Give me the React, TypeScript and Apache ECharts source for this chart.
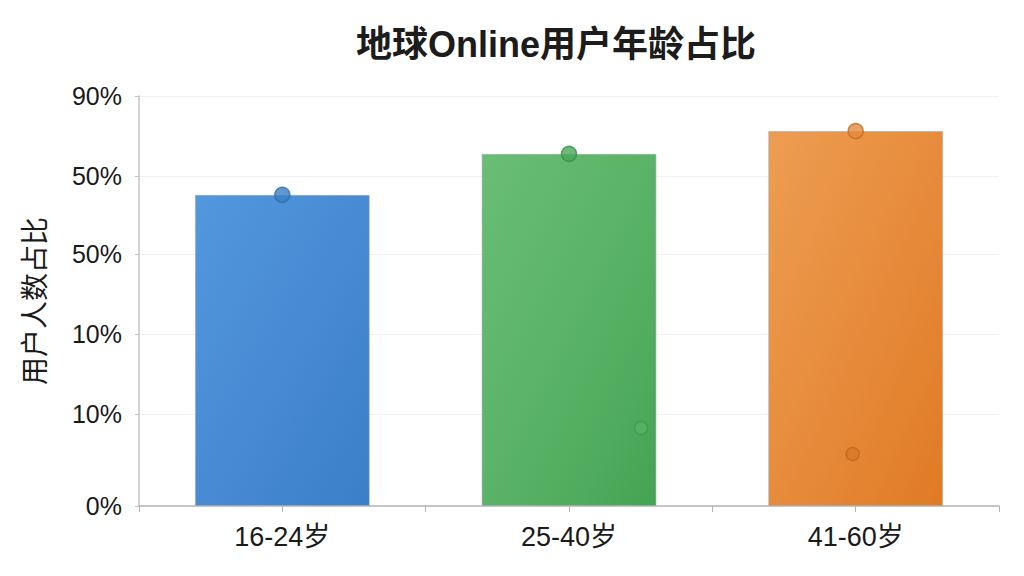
import React, { useEffect, useRef } from 'react';
import * as echarts from 'echarts';
import type { EChartsOption } from 'echarts';

const categories = ['16-24岁', '25-40岁', '41-60岁'];
const barValues = [68.3, 77.3, 82.3];
const topDotValues = [68.3, 77.3, 82.3];
const innerDotValues: (number | null)[] = [null, 17.1, 11.4];
const yTickValues = [0, 20.2, 37.8, 55.3, 72.4, 90];
const yTickLabels = ['0%', '10%', '10%', '50%', '50%', '90%'];

const FONT = '"Liberation Sans", Arial, "Noto Sans CJK SC", sans-serif';

// light, dark, dot fill, dot border per bar
const palette = [
  { light: '#5298dd', mid: '#4789d3', dark: '#3a7fc8', dot: '#3a7fc2', edge: '#2f6cab' },
  { light: '#6abd76', mid: '#58b265', dark: '#45a354', dot: '#4aa657', edge: '#3a8e47' },
  { light: '#ed9d52', mid: '#e68a3a', dark: '#e07a24', dot: '#e38a3d', edge: '#c46b22' },
];

const barGradient = (i: number) => ({
  type: 'linear' as const,
  x: 0, y: 0, x2: 1, y2: 1,
  colorStops: [
    { offset: 0, color: palette[i].light },
    { offset: 0.55, color: palette[i].mid },
    { offset: 0.56, color: palette[i].mid },
    { offset: 1, color: palette[i].dark },
  ],
});

const nearestLabel = (v: number) => {
  let best = 0;
  yTickValues.forEach((t, i) => {
    if (Math.abs(t - v) < Math.abs(yTickValues[best] - v)) best = i;
  });
  return yTickLabels[best];
};

const App: React.FC = () => {
  const chartRef = useRef<HTMLDivElement>(null);

  useEffect(() => {
    if (!chartRef.current) return;
    const chart = echarts.init(chartRef.current, undefined, { renderer: 'svg' });

    const option: EChartsOption = {
      animation: false,
      backgroundColor: '#ffffff',
      textStyle: { fontFamily: FONT },
      title: {
        text: '地球Online用户年龄占比',
        left: 543,
        top: 13,
        textAlign: 'center',
        textStyle: { fontSize: 36, fontWeight: 'bold', color: '#1c1c1c', fontFamily: FONT },
      },
      grid: { left: 131, right: 17, top: 88, bottom: 62 },
      xAxis: [
        {
          type: 'category',
          data: categories,
          axisLine: { lineStyle: { color: '#b5b5b5', width: 1.5 } },
          axisTick: { show: true, alignWithLabel: false, length: 6, lineStyle: { color: '#b5b5b5' } },
          axisLabel: { fontSize: 27, color: '#1a1a1a', margin: 17, fontFamily: FONT },
        },
        {
          type: 'category',
          data: categories,
          position: 'bottom',
          axisLine: { show: false },
          axisTick: { show: true, alignWithLabel: true, length: 6, lineStyle: { color: '#b5b5b5' } },
          axisLabel: { show: false },
        },
      ],
      yAxis: {
        type: 'value',
        min: 0,
        max: 90,
        name: '用户人数占比',
        nameLocation: 'middle',
        nameRotate: 90,
        nameGap: 90,
        nameTextStyle: { fontSize: 28, color: '#1a1a1a', fontFamily: FONT },
        axisLine: { show: true, lineStyle: { color: '#c4c4c4', width: 1.5 } },
        axisTick: { show: true, length: 4, customValues: yTickValues, lineStyle: { color: '#c4c4c4' } },
        axisLabel: {
          fontSize: 25,
          color: '#1a1a1a',
          margin: 17,
          customValues: yTickValues,
          formatter: (v: number) => nearestLabel(v),
        },
        splitLine: { show: true, lineStyle: { color: '#f0f0f0', width: 1 } },
      } as any,
      series: [
        {
          type: 'bar',
          barWidth: '61%',
          data: barValues.map((v, i) => ({
            value: v,
            itemStyle: {
              color: barGradient(i),
              borderColor: 'rgba(160,170,180,0.55)',
              borderWidth: 1,
            },
          })),
        },
        {
          type: 'scatter',
          symbol: 'circle',
          symbolSize: 15,
          z: 5,
          data: topDotValues.map((v, i) => ({
            value: [i, v],
            itemStyle: { color: palette[i].dot, borderColor: palette[i].edge, borderWidth: 1.5 },
          })),
        },
        {
          type: 'scatter',
          symbol: 'circle',
          symbolSize: 13,
          z: 5,
          data: innerDotValues
            .map((v, i) =>
              v === null
                ? null
                : {
                    value: [i, v],
                    symbolOffset: i === 1 ? [72, 0] : [-3, 0],
                    itemStyle:
                      i === 1
                        ? { color: palette[i].mid, borderColor: '#3f9a4c', borderWidth: 1.5 }
                        : { color: '#d9782a', borderColor: '#c1681f', borderWidth: 1.5 },
                  },
            )
            .filter((d) => d !== null) as any,
        },
      ],
    };

    chart.setOption(option);
    return () => chart.dispose();
  }, []);

  return <div ref={chartRef} style={{ width: '1008px', height: '560px' }} />;
};

export default App;
